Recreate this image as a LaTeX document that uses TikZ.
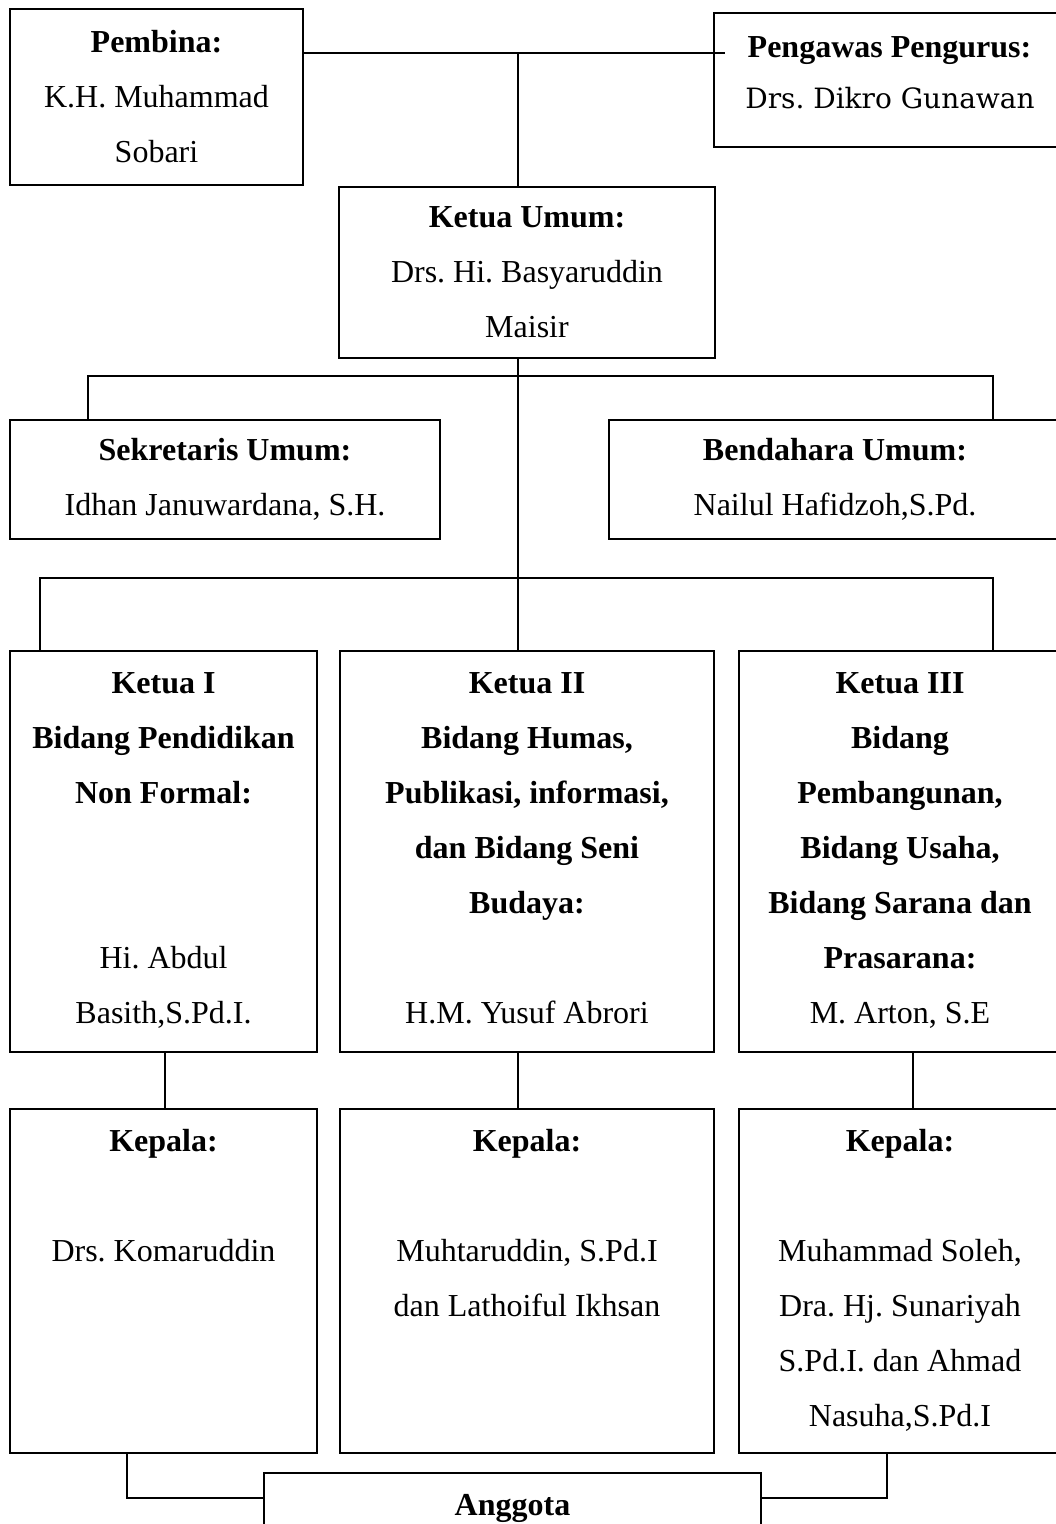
\documentclass[tikz,border=0pt]{standalone}
\usepackage{fontspec}
\setmainfont{Liberation Serif}
\newfontfamily\bookfont{DejaVu Serif}
\usetikzlibrary{calc}
\frenchspacing
\tikzset{
  bx/.style={draw, line width=1.6pt, rectangle, inner sep=0pt, outer sep=0pt},
  txt/.style={inner sep=0pt, anchor=base, font=\fontsize{32}{38}\selectfont},
  ln/.style={line width=1.6pt}
}
\newcommand\txtlines[4]{%
  \foreach \t [count=\i] in {#4}
    \node[txt] (#1-\i) at ({#2},{#3+10+55*(\i-1)}) {\t};}
\begin{document}
\frenchspacing
\begin{tikzpicture}[x=1pt,y=-1pt]
\useasboundingbox (0,0) rectangle (1056,1524);
\begin{scope}
\clip (0,0) rectangle (1056,1524);
% boxes
\node[bx, minimum width=293, minimum height=176] (pembina) at (156.5,97) {};
\node[bx, minimum width=351, minimum height=134] (pengawas) at (889.5,80) {};
\node[bx, minimum width=376, minimum height=171] (ketum) at (527,272.5) {};
\node[bx, minimum width=430, minimum height=119] (sekum) at (225,479.5) {};
\node[bx, minimum width=452, minimum height=119] (bendum) at (835,479.5) {};
\node[bx, minimum width=307, minimum height=401] (k1) at (163.5,851.5) {};
\node[bx, minimum width=374, minimum height=401] (k2) at (527,851.5) {};
\node[bx, minimum width=322, minimum height=401] (k3) at (900,851.5) {};
\node[bx, minimum width=307, minimum height=344] (kp1) at (163.5,1281) {};
\node[bx, minimum width=374, minimum height=344] (kp2) at (527,1281) {};
\node[bx, minimum width=322, minimum height=344] (kp3) at (900,1281) {};
\node[bx, minimum width=497, minimum height=94] (anggota) at (512.5,1520) {};
% junction coordinates
\coordinate (j1) at (518,53);
\coordinate (b1l) at (88,376);
\coordinate (b1r) at (993,376);
\coordinate (b2l) at (40,578);
\coordinate (b2r) at (993,578);
\coordinate (c1) at (165,1080);
\coordinate (c3) at (913,1080);
\coordinate (d1) at (127,1498);
\coordinate (d3) at (887,1498);
% connectors
\draw[ln] (pembina.east |- j1) -- ($(pengawas.west |- j1)+(11,0)$);
\draw[ln] (j1) -- (j1 |- ketum.north);
\draw[ln] (j1 |- ketum.south) -- (j1 |- k2.north);
\draw[ln] (b1l |- sekum.north) -- (b1l) -- (b1r) -- (b1r |- bendum.north);
\draw[ln] (b2l |- k1.north) -- (b2l) -- (b2r) -- (b2r |- k3.north);
\draw[ln] (c1 |- k1.south) -- (c1 |- kp1.north);
\draw[ln] (j1 |- k2.south) -- (j1 |- kp2.north);
\draw[ln] (c3 |- k3.south) -- (c3 |- kp3.north);
\draw[ln] (d1 |- kp1.south) -- (d1) -- (anggota.west |- d1);
\draw[ln] (d3 |- kp3.south) -- (d3) -- (anggota.east |- d3);
% texts
\txtlines{tp}{156.5}{42}{{\bfseries Pembina:},K.H. Muhammad,Sobari}
\node[txt] (tg-1) at (889.5,57) {\bfseries Pengawas Pengurus:};
\node[txt, font=\bookfont\fontsize{28}{34}\selectfont] (tg-2) at (890,108) {Drs. Dikro Gunawan};
\txtlines{tk}{527}{217}{{\bfseries Ketua Umum:},Drs. Hi. Basyaruddin,Maisir}
\txtlines{ts}{225}{450}{{\bfseries Sekretaris Umum:},{Idhan Januwardana, S.H.}}
\txtlines{tb}{835}{450}{{\bfseries Bendahara Umum:},{Nailul Hafidzoh,S.Pd.}}
\txtlines{ta}{163.5}{683}{{\bfseries Ketua I},{\bfseries Bidang Pendidikan},{\bfseries Non Formal:},{},{},Hi. Abdul,{Basith,S.Pd.I.}}
\txtlines{tc}{527}{683}{{\bfseries Ketua II},{\bfseries Bidang Humas,},{\bfseries Publikasi, informasi,},{\bfseries dan Bidang Seni},{\bfseries Budaya:},{},H.M. Yusuf Abrori}
\txtlines{td}{900}{683}{{\bfseries Ketua III},{\bfseries Bidang},{\bfseries Pembangunan,},{\bfseries Bidang Usaha,},{\bfseries Bidang Sarana dan},{\bfseries Prasarana:},{M. Arton, S.E}}
\txtlines{te}{163.5}{1141}{{\bfseries Kepala:},{},Drs. Komaruddin}
\txtlines{tf}{527}{1141}{{\bfseries Kepala:},{},{Muhtaruddin, S.Pd.I},dan Lathoiful Ikhsan}
\txtlines{th}{900}{1141}{{\bfseries Kepala:},{},{Muhammad Soleh,},Dra. Hj. Sunariyah,S.Pd.I. dan Ahmad,{Nasuha,S.Pd.I}}
\node[txt] (tn) at (512.5,1515) {\bfseries Anggota};
\end{scope}
\end{tikzpicture}
\end{document}
